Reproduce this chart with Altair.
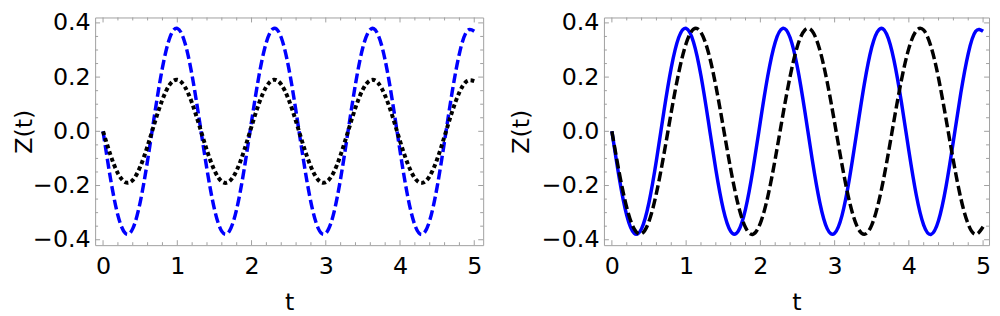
import altair as alt
import pandas as pd

# sample times (t)
T = [0.0, 0.1, 0.2, 0.3, 0.4, 0.5, 0.6, 0.7, 0.8, 0.9,
     1.0, 1.1, 1.2, 1.3, 1.4, 1.5, 1.6, 1.7, 1.8, 1.9,
     2.0, 2.1, 2.2, 2.3, 2.4, 2.5, 2.6, 2.7, 2.8, 2.9,
     3.0, 3.1, 3.2, 3.3, 3.4, 3.5, 3.6, 3.7, 3.8, 3.9,
     4.0, 4.1, 4.2, 4.3, 4.4, 4.5, 4.6, 4.7, 4.8, 4.9, 5.0]

# left panel: blue dashed
LEFT_BLUE = [0.000, -0.174, -0.310, -0.376, -0.359, -0.262, -0.107, 0.072, 0.235, 0.346,
             0.380, 0.329, 0.205, 0.036, -0.141, -0.287, -0.369, -0.369, -0.287, -0.141,
             0.036, 0.205, 0.329, 0.380, 0.346, 0.235, 0.072, -0.107, -0.262, -0.359,
             -0.376, -0.310, -0.174, 0.000, 0.174, 0.310, 0.376, 0.359, 0.262, 0.107,
             -0.072, -0.235, -0.346, -0.380, -0.329, -0.205, -0.036, 0.141, 0.287, 0.369, 0.369]

# left panel: black dotted
LEFT_BLACK = [0.000, -0.087, -0.155, -0.188, -0.180, -0.131, -0.054, 0.036, 0.117, 0.173,
              0.190, 0.165, 0.103, 0.018, -0.071, -0.144, -0.185, -0.185, -0.144, -0.071,
              0.018, 0.103, 0.165, 0.190, 0.173, 0.117, 0.036, -0.054, -0.131, -0.180,
              -0.188, -0.155, -0.087, 0.000, 0.087, 0.155, 0.188, 0.180, 0.131, 0.054,
              -0.036, -0.117, -0.173, -0.190, -0.165, -0.103, -0.018, 0.071, 0.144, 0.185, 0.185]

# right panel: blue solid
RIGHT_BLUE = [0.000, -0.174, -0.310, -0.376, -0.359, -0.262, -0.107, 0.072, 0.235, 0.346,
              0.380, 0.329, 0.205, 0.036, -0.141, -0.287, -0.369, -0.369, -0.287, -0.141,
              0.036, 0.205, 0.329, 0.380, 0.346, 0.235, 0.072, -0.107, -0.262, -0.359,
              -0.376, -0.310, -0.174, 0.000, 0.174, 0.310, 0.376, 0.359, 0.262, 0.107,
              -0.072, -0.235, -0.346, -0.380, -0.329, -0.205, -0.036, 0.141, 0.287, 0.369, 0.369]

# right panel: black dashed
RIGHT_BLACK = [0.000, -0.154, -0.281, -0.360, -0.378, -0.332, -0.228, -0.086, 0.071, 0.216,
               0.324, 0.377, 0.365, 0.291, 0.168, 0.016, -0.139, -0.270, -0.355, -0.380,
               -0.339, -0.241, -0.102, 0.055, 0.202, 0.315, 0.374, 0.369, 0.301, 0.182,
               0.032, -0.124, -0.259, -0.349, -0.380, -0.346, -0.253, -0.117, 0.040, 0.189,
               0.306, 0.371, 0.373, 0.311, 0.196, 0.047, -0.109, -0.247, -0.343, -0.380, -0.352]

X_MAJOR = [0, 1, 2, 3, 4, 5]
X_MINOR = [0.2, 0.4, 0.6, 0.8, 1.2, 1.4, 1.6, 1.8, 2.2, 2.4, 2.6, 2.8,
           3.2, 3.4, 3.6, 3.8, 4.2, 4.4, 4.6, 4.8]
Y_MAJOR = [-0.4, -0.2, 0.0, 0.2, 0.4]
Y_MINOR = [-0.35, -0.3, -0.25, -0.15, -0.1, -0.05, 0.05, 0.1, 0.15, 0.25, 0.3, 0.35]

FONT = "DejaVu Sans"
FRAME = "#a0a0a0"
H = 230
MAJ, MIN = 5, 3

yscale = alt.Scale(domain=[-0.42, 0.42], nice=False, zero=False)


def make_axes(title_pad):
    xaxis = alt.Axis(values=X_MAJOR, format="d", title="t", grid=False, domain=False,
                     ticks=False, labelPadding=10, titlePadding=12)
    yaxis = alt.Axis(values=Y_MAJOR, format=".1f", title="Z(t)", grid=False, domain=False,
                     ticks=False, labelPadding=5, titlePadding=title_pad)
    return xaxis, yaxis


def line(values, color, width, dash, xscale, xaxis, yaxis):
    df = pd.DataFrame({"t": T, "z": values})
    kw = dict(color=color, strokeWidth=width, interpolate="natural")
    if dash:
        kw["strokeDash"] = dash
    return alt.Chart(df).mark_line(**kw).encode(
        x=alt.X("t:Q", scale=xscale, axis=xaxis),
        y=alt.Y("z:Q", scale=yscale, axis=yaxis))


def ticks_layers(W, xscale, xaxis, yaxis):
    layers = []
    for vals, ln in ((X_MAJOR, MAJ), (X_MINOR, MIN)):
        d = pd.DataFrame({"t": vals})
        layers.append(alt.Chart(d).mark_rule(color=FRAME, strokeWidth=1).encode(
            x=alt.X("t:Q", scale=xscale, axis=xaxis), y=alt.value(H), y2=alt.value(H - ln)))
        layers.append(alt.Chart(d).mark_rule(color=FRAME, strokeWidth=1).encode(
            x=alt.X("t:Q", scale=xscale, axis=xaxis), y=alt.value(0), y2=alt.value(ln)))
    for vals, ln in ((Y_MAJOR, MAJ), (Y_MINOR, MIN)):
        d = pd.DataFrame({"z": vals})
        layers.append(alt.Chart(d).mark_rule(color=FRAME, strokeWidth=1).encode(
            y=alt.Y("z:Q", scale=yscale, axis=yaxis), x=alt.value(0), x2=alt.value(ln)))
        layers.append(alt.Chart(d).mark_rule(color=FRAME, strokeWidth=1).encode(
            y=alt.Y("z:Q", scale=yscale, axis=yaxis), x=alt.value(W), x2=alt.value(W - ln)))
    return layers


def panel(W, xdomain, specs, title_pad):
    xscale = alt.Scale(domain=xdomain, nice=False, zero=False)
    xaxis, yaxis = make_axes(title_pad)
    lines = [line(v, c, w, d, xscale, xaxis, yaxis) for (v, c, w, d) in specs]
    return alt.layer(*lines, *ticks_layers(W, xscale, xaxis, yaxis)).properties(width=W, height=H)


left = panel(392, [-0.107, 5.12],
             [(LEFT_BLUE, "#0000ff", 3.5, [10, 4]),
              (LEFT_BLACK, "#000000", 4, [4, 3])], -4)
right = panel(389, [-0.107, 5.08],
              [(RIGHT_BLUE, "#0000ff", 3.5, None),
               (RIGHT_BLACK, "#000000", 3.5, [10, 4])], 8)

chart = alt.hconcat(left, right, spacing=25).properties(
    padding={"left": 4, "top": 0, "right": 0, "bottom": 0}
).configure_view(
    stroke=FRAME, strokeWidth=1
).configure_axis(
    labelFont=FONT, labelFontSize=24, labelColor="#000000",
    titleFont=FONT, titleFontSize=24, titleFontWeight="normal", titleColor="#000000"
)

chart.save("out.html", embed_options={"renderer": "svg", "actions": False})
